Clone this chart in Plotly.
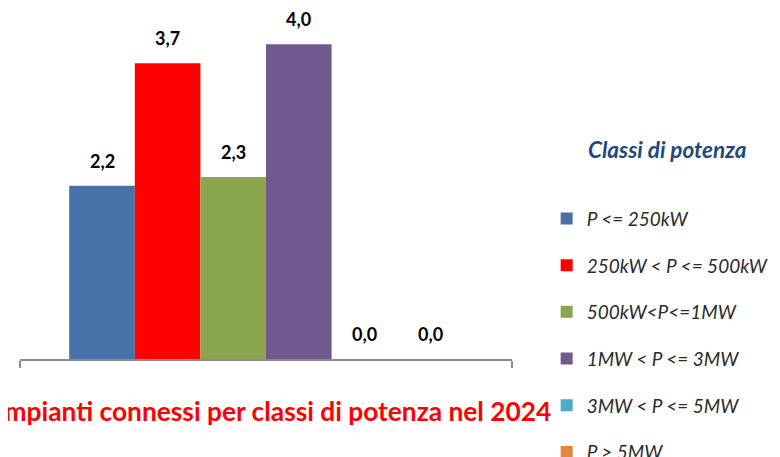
import plotly.graph_objects as go

classes = ["P <= 250kW", "250kW < P <= 500kW", "500kW<P<=1MW",
           "1MW < P <= 3MW", "3MW < P <= 5MW", "P > 5MW"]
values = [2.18, 3.72, 2.29, 3.96, 0.0, 0.0]
labels = ["2,2", "3,7", "2,3", "4,0", "0,0", "0,0"]
colors = ["#4672A8", "#FF0000", "#8AA64F", "#71598E", "#4BACC6", "#E0883E"]
positions = [0, 1, 2, 3, 4, 5]

title_text = "Impianti connessi per classi di potenza nel 2024"
legend_title = "Classi di potenza"

fig = go.Figure()
for i, (name, v, c) in enumerate(zip(classes, values, colors)):
    fig.add_trace(go.Bar(
        x=[positions[i]], y=[v], name=name, marker_color=c,
        marker_line_width=0, width=1.0, legendgroup=f"g{i}",
        hoverinfo="skip",
    ))

for p, v, t in zip(positions, values, labels):
    fig.add_annotation(x=p, y=v, text=f"<b>{t}</b>", showarrow=False,
                       yanchor="bottom", yshift=12,
                       font=dict(family="Lato", size=18, color="#000000"))

fig.add_annotation(xref="paper", yref="paper", x=0.516, y=-0.148,
                   text=f"<b>{title_text}</b>", showarrow=False,
                   xanchor="center", yanchor="middle",
                   font=dict(family="Lato", size=26.3, color="#FF0000"))

fig.add_annotation(xref="paper", yref="paper", x=1.316, y=0.598,
                   text=f"<b><i>{legend_title}</i></b>", showarrow=False,
                   xanchor="center", yanchor="middle",
                   font=dict(family="Lato", size=22.5, color="#1F497D"))

xmin, xmax = -1.25, 6.25
fig.update_layout(
    width=780, height=457,
    margin=dict(l=12, r=276, t=0, b=106, autoexpand=False),
    paper_bgcolor="white", plot_bgcolor="white",
    showlegend=True,
    legend=dict(xref="container", yref="container",
                x=0.6906, y=0.5807, xanchor="left", yanchor="top",
                maxheight=440,
                font=dict(family="Lato", size=19, color="#2B2B2B", style="italic"),
                tracegroupgap=19, itemclick=False, bgcolor="rgba(0,0,0,0)"),
    xaxis=dict(range=[xmin, xmax], showgrid=False, zeroline=False,
               showline=True, linecolor="#8C8C8C", linewidth=2,
               ticks="outside", ticklen=7, tickwidth=2, tickcolor="#8C8C8C",
               tickvals=[xmin, xmax], showticklabels=False, fixedrange=True),
    yaxis=dict(range=[0, 4.415], visible=False, fixedrange=True),
)

fig.write_html("out.html")
